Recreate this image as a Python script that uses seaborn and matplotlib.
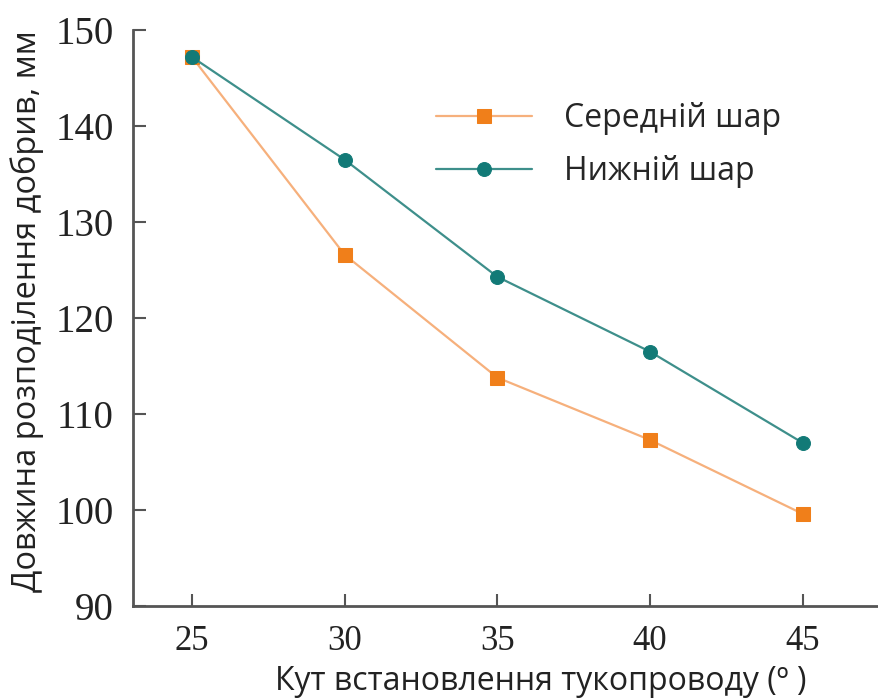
import matplotlib
matplotlib.use("Agg")
import matplotlib.pyplot as plt
import seaborn as sns
import pandas as pd

angles = [25, 30, 35, 40, 45]
middle_layer = [147.2, 126.6, 113.8, 107.3, 99.6]
bottom_layer = [147.2, 136.5, 124.3, 116.5, 107.0]
series_names = ["Середній шар", "Нижній шар"]
x_ticks = [25, 30, 35, 40, 45]
y_ticks = [90, 100, 110, 120, 130, 140, 150]

df = pd.DataFrame({
    "angle": angles * 2,
    "value": middle_layer + bottom_layer,
    "series": [series_names[0]] * len(angles) + [series_names[1]] * len(angles),
})

sns.set_style("white")
fig = plt.figure(figsize=(8.79, 7.0), dpi=100)
ax = fig.add_axes([0.1513, 0.1343, 0.8487, 0.8227])

line_colors = {series_names[0]: "#f6b07c", series_names[1]: "#3e8f8b"}
marker_colors = {series_names[0]: "#f07f1a", series_names[1]: "#127a77"}
markers = {series_names[0]: "s", series_names[1]: "o"}

sns.lineplot(data=df, x="angle", y="value", hue="series", style="series",
             palette=line_colors, markers=markers, dashes=False,
             markersize=10, linewidth=1.6, ax=ax, legend=False)

for line, name in zip(ax.get_lines(), series_names):
    line.set_markerfacecolor(marker_colors[name])
    line.set_markeredgecolor(marker_colors[name])
    line.set_label(name)

ax.set_xlim(23.07, 47.5)
ax.set_ylim(90, 150)
ax.set_xticks(x_ticks)
ax.set_yticks(y_ticks)

for s in ["top", "right"]:
    ax.spines[s].set_visible(False)
for s in ["left", "bottom"]:
    ax.spines[s].set_color("#555555")
    ax.spines[s].set_linewidth(2)

ax.tick_params(axis="both", direction="in", length=9, width=1.5, color="#555555",
               labelcolor="#222222", bottom=True, left=True)
ax.tick_params(axis="y", labelsize=28, pad=14)
ax.tick_params(axis="x", labelsize=25, pad=14)
for lab in ax.get_xticklabels() + ax.get_yticklabels():
    lab.set_family("Liberation Serif")

ax.set_xlabel("Кут встановлення тукопроводу (º )", fontsize=23, family="Open Sans",
              color="#222222", labelpad=5)
ax.xaxis.label.set_x(0.547)
ax.set_ylabel("Довжина розподілення добрив, мм", fontsize=23.5, family="Open Sans",
              color="#222222", labelpad=8)
ax.yaxis.label.set_y(0.512)

ax.legend(handles=ax.get_lines(), labels=series_names, loc="upper left",
          bbox_to_anchor=(0.368, 0.925), frameon=False,
          prop={"family": "Open Sans", "size": 23}, handlelength=3.0,
          handletextpad=1.0, labelspacing=0.62)

fig.savefig("out.png", dpi=100, facecolor="white")
